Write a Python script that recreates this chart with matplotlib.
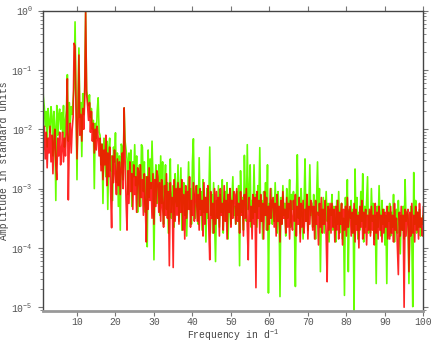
import numpy as np
import matplotlib.pyplot as plt

# spectrum sampled every 0.25 d^-1 starting at 1.0; values are log10(amplitude)
f_start = 1.0
f_step = 0.25

green_a = [
    -1.16, -1.45, -1.62, -1.95, -1.70, -2.30, -1.65, -1.88, -2.05, -1.62, -1.78, -2.45, -1.70, -1.95, -3.20, -1.60, -2.10, -1.75, -1.66, -2.00,
    -1.72, -2.05, -1.60, -2.30, -1.85, -1.68, -1.08, -2.20, -1.55, -1.90, -1.62, -1.75, -1.50, -1.30, -0.19, -1.40, -2.85, -1.55, -0.63, -1.80,
    -1.55, -2.46, -1.40, -1.75, -1.30, -0.02, -1.35, -1.45, -1.60, -1.42, -1.80, -1.65, -2.00, -1.85, -3.00, -1.90, -2.15, -1.70, -1.47, -2.05,
    -2.10, -2.60, -2.25, -3.25, -2.15, -2.40, -2.80, -2.20, -3.35, -2.35, -2.15, -2.70, -2.45, -3.20, -2.30, -2.55, -2.06, -2.90, -2.40, -3.30,
    -2.45, -3.70, -2.25, -2.30, -2.85, -1.64, -2.20, -2.35, -2.50, -3.10, -2.40, -2.65, -2.35, -3.30, -2.55, -2.80, -2.26, -2.95, -2.45, -3.40,
]
green_b = [
    -2.90, -2.60, -3.30, -2.26, -2.30, -3.05, -2.55, -3.40, -2.80, -3.98, -2.35, -3.15, -2.50, -3.00, -2.20, -2.85, -4.20, -2.95, -2.60, -3.25,
    -3.10, -2.60, -3.45, -2.45, -3.25, -2.55, -3.60, -3.00, -2.60, -3.35, -2.90, -3.75, -3.05, -2.50, -3.50, -3.15, -2.95, -3.65, -2.75, -3.20,
    -3.30, -2.60, -3.55, -3.10, -2.65, -3.70, -3.20, -2.90, -3.45, -3.05, -3.80, -3.15, -2.55, -3.35, -3.00, -3.60, -2.55, -2.16, -3.25, -3.50,
    -3.25, -2.95, -3.60, -2.48, -3.35, -3.05, -3.70, -2.85, -3.40, -3.15, -3.90, -3.00, -3.50, -3.20, -2.30, -3.45, -3.10, -3.75, -2.90, -3.55,
    -4.23, -3.20, -3.50, -2.95, -3.65, -3.10, -3.40, -2.85, -3.75, -3.25, -3.05, -3.55, -2.90, -3.85, -3.30, -3.00, -3.60, -3.20, -2.80, -3.45,
]
green_c = [
    -3.30, -3.60, -3.05, -3.45, -2.95, -4.30, -2.70, -3.40, -3.15, -3.70, -2.44, -3.25, -3.55, -2.26, -3.35, -3.10, -2.60, -3.65, -3.20, -3.50,
    -2.60, -3.40, -3.10, -3.65, -2.95, -3.30, -2.31, -3.55, -3.20, -3.85, -3.05, -3.45, -2.90, -3.70, -2.60, -4.76, -3.25, -3.50, -3.00, -3.60,
    -3.20, -3.55, -2.90, -3.40, -3.75, -3.05, -3.35, -4.82, -3.15, -3.60, -2.95, -3.45, -3.25, -3.80, -3.00, -3.50, -3.30, -2.85, -3.65, -3.10,
    -3.35, -3.05, -3.60, -4.65, -3.20, -2.43, -3.50, -3.15, -3.75, -3.00, -3.40, -3.85, -3.25, -2.50, -3.55, -3.10, -3.70, -3.30, -2.60, -3.45,
    -3.30, -3.65, -3.10, -3.50, -3.85, -3.20, -2.55, -3.45, -3.00, -4.40, -3.35, -3.60, -3.15, -3.75, -3.40, -3.05, -3.55, -3.25, -3.90, -3.35,
]
green_d = [
    -3.45, -3.10, -3.70, -3.30, -3.55, -3.90, -3.20, -3.60, -3.05, -3.75, -3.40, -3.25, -3.85, -3.50, -4.80, -3.15, -3.65, -2.85, -4.40, -3.35,
    -3.50, -3.20, -3.75, -3.35, -5.05, -2.67, -3.60, -3.15, -3.85, -3.40, -3.70, -3.05, -3.55, -2.75, -3.90, -3.30, -3.65, -3.20, -2.80, -3.75,
    -3.40, -3.75, -3.00, -3.55, -3.25, -3.85, -3.45, -4.60, -3.30, -3.65, -2.95, -3.50, -3.80, -3.20, -3.60, -3.35, -3.95, -3.45, -4.60, -3.30,
    -3.55, -3.25, -3.80, -3.40, -3.65, -3.10, -3.90, -3.50, -3.35, -3.75, -3.20, -3.60, -4.10, -3.45, -3.70, -3.30, -3.85, -2.85, -3.55, -3.40,
    -3.45, -4.60, -3.70, -3.30, -3.85, -4.99, -2.73, -3.60, -3.20, -3.75, -3.40, -3.65, -3.35, -3.80, -3.50, -3.60, -3.45, -3.70, -3.55, -3.60,
]

red_a = [
    -1.80, -2.35, -1.95, -2.50, -2.05, -2.65, -2.15, -2.40, -1.95, -2.55, -2.10, -2.75, -2.20, -2.00, -2.60, -2.85, -2.15, -2.45, -2.05, -2.60,
    -2.35, -2.05, -2.55, -2.15, -2.45, -1.95, -1.15, -3.19, -2.20, -1.90, -2.40, -2.00, -1.80, -0.55, -0.60, -1.65, -2.50, -1.85, -0.75, -2.10,
    -1.75, -2.20, -1.65, -2.00, -1.50, -0.03, -1.40, -1.60, -1.85, -1.55, -2.05, -1.70, -2.20, -1.90, -2.40, -2.00, -2.35, -1.95, -2.15, -2.45,
    -2.15, -2.70, -2.25, -2.85, -2.35, -2.60, -2.10, -2.95, -2.40, -2.80, -2.30, -3.05, -3.66, -2.45, -2.90, -2.35, -2.75, -3.10, -2.50, -2.95,
    -2.55, -3.10, -2.65, -2.40, -3.00, -1.64, -2.50, -3.20, -3.70, -2.70, -3.25, -2.55, -3.05, -2.75, -3.35, -2.60, -3.10, -2.80, -3.40, -2.65,
]
red_b = [
    -2.70, -3.30, -2.60, -3.15, -2.85, -3.45, -2.75, -3.25, -3.90, -2.80, -3.35, -2.65, -3.20, -2.90, -3.50, -2.75, -3.60, -2.85, -3.30, -2.70,
    -2.80, -3.40, -2.90, -3.55, -2.85, -3.30, -3.65, -2.95, -3.45, -2.75, -3.50, -3.05, -4.30, -2.90, -3.40, -3.15, -4.33, -2.85, -3.55, -3.00,
    -3.45, -2.90, -3.60, -3.00, -3.40, -2.85, -3.70, -3.10, -3.85, -2.95, -3.50, -3.05, -3.35, -2.80, -3.65, -3.20, -3.45, -2.90, -3.55, -3.10,
    -2.95, -3.55, -3.10, -3.70, -3.00, -3.45, -3.20, -3.80, -2.90, -3.60, -3.15, -3.40, -2.95, -3.65, -4.20, -3.05, -3.50, -3.25, -3.75, -3.00,
    -3.60, -3.05, -3.50, -3.15, -3.80, -3.00, -3.45, -3.25, -3.70, -2.95, -3.55, -3.20, -3.85, -3.10, -3.40, -3.00, -3.65, -3.20, -3.50, -3.05,
]
red_c = [
    -3.10, -3.60, -3.00, -3.55, -3.25, -3.75, -3.05, -3.45, -3.20, -3.80, -3.10, -3.50, -3.00, -3.65, -4.20, -3.15, -3.55, -3.30, -3.85, -3.10,
    -3.60, -3.15, -4.67, -3.05, -3.50, -3.20, -3.75, -3.10, -3.55, -3.25, -3.85, -3.05, -3.45, -3.15, -3.70, -3.30, -3.60, -3.00, -3.50, -3.20,
    -3.15, -3.65, -3.25, -3.80, -3.10, -3.55, -3.30, -3.90, -3.20, -3.60, -3.05, -3.50, -3.35, -3.75, -3.15, -3.65, -3.25, -3.85, -3.20, -3.55,
    -3.70, -3.20, -3.55, -3.10, -3.80, -3.30, -3.60, -3.15, -3.90, -3.25, -3.65, -3.20, -3.75, -3.35, -3.55, -3.10, -3.85, -3.30, -3.60, -3.20,
    -3.25, -3.70, -3.30, -3.85, -3.20, -3.60, -3.40, -3.95, -3.25, -3.65, -3.15, -3.75, -3.35, -3.60, -3.20, -3.80, -4.57, -3.30, -3.70, -3.25,
]
red_d = [
    -3.75, -3.25, -3.65, -3.35, -3.90, -3.30, -3.70, -3.20, -3.85, -3.40, -3.60, -3.25, -3.95, -3.35, -3.70, -3.30, -3.80, -3.15, -3.65, -3.40,
    -3.30, -3.80, -3.40, -3.75, -3.25, -3.90, -3.35, -3.70, -3.45, -4.00, -3.30, -3.65, -3.20, -3.85, -3.40, -3.75, -3.35, -3.95, -3.45, -3.70,
    -3.35, -3.80, -3.30, -3.70, -3.45, -3.95, -3.25, -3.75, -3.40, -3.85, -3.30, -3.70, -3.45, -3.90, -3.35, -3.75, -3.40, -3.65, -3.30, -3.85,
    -3.40, -3.85, -3.30, -3.75, -3.45, -3.90, -3.25, -3.70, -3.50, -3.95, -4.45, -3.40, -3.80, -3.30, -3.70, -3.45, -5.00, -3.35, -3.80, -3.40,
    -3.35, -4.40, -3.40, -3.80, -3.25, -3.75, -3.45, -3.90, -3.30, -3.70, -3.40, -3.85, -3.25, -3.65, -3.50, -3.80, -3.30, -3.75, -3.45, -3.60,
]

green_log = np.array(green_a + green_b + green_c + green_d)
red_log = np.array(red_a + red_b + red_c + red_d)
freq = f_start + f_step * np.arange(len(green_log))

plt.rcParams['font.family'] = ['Liberation Mono', 'DejaVu Sans Mono']
plt.rcParams['mathtext.fontset'] = 'custom'
plt.rcParams['mathtext.rm'] = 'Liberation Mono'
plt.rcParams['mathtext.it'] = 'Liberation Mono'
plt.rcParams['mathtext.default'] = 'regular'
plt.rcParams['font.size'] = 7

fig = plt.figure(figsize=(4.36, 3.42), dpi=100)
ax = fig.add_axes([0.098, 0.092, 0.873, 0.877])

ax.plot(freq, 10 ** green_log, color='#66ff00', lw=1.2)
ax.plot(freq, 10 ** red_log, color='#ff0000', lw=1.2, alpha=0.85)

ax.set_yscale('log')
ax.set_xlim(1.1, 100)
ax.set_ylim(8.8e-6, 1)
ax.set_xticks([10, 20, 30, 40, 50, 60, 70, 80, 90, 100])

ax.set_xlabel('Frequency in d$^{-1}$', color='#444444', labelpad=0)
ax.set_ylabel('Amplitude in standard units', color='#444444', labelpad=2)

for side in ['left', 'top', 'right']:
    ax.spines[side].set_color('#444444')
    ax.spines[side].set_linewidth(1.0)
ax.spines['bottom'].set_color('#999999')
ax.spines['bottom'].set_linewidth(2.0)

ax.tick_params(which='both', direction='out', top=True, right=True,
               colors='#777777', labelcolor='#555555', labelsize=7)
ax.tick_params(which='major', length=3.5, width=0.8)
ax.tick_params(which='minor', length=2, width=0.6)
ax.tick_params(axis='x', pad=1.5)

fig.savefig('out.png', dpi=100)
